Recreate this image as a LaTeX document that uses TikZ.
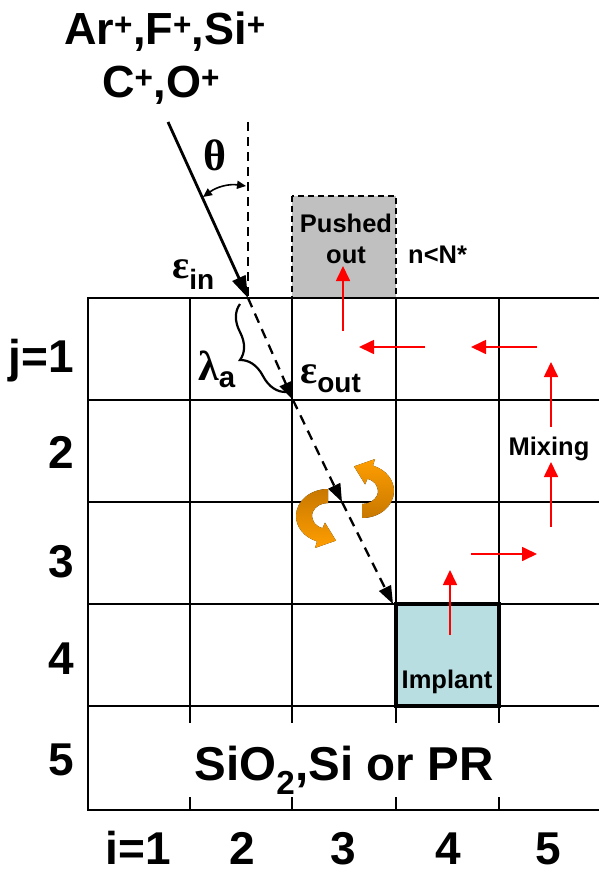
\documentclass[tikz,border=0pt]{standalone}
\usepackage{fontspec}
\setmainfont{Liberation Sans}
\newfontfamily\serifgr{Liberation Serif}
\usetikzlibrary{arrows.meta,decorations.pathreplacing,calc}
\definecolor{orD}{RGB}{200,120,0}
\definecolor{orL}{RGB}{255,158,0}
\definecolor{implantblue}{RGB}{184,222,226}
\definecolor{pushgray}{RGB}{192,192,192}
\begin{document}
\begin{tikzpicture}[x=1pt,y=-1pt,
  gridline/.style={line width=2.4pt, line cap=rect},
  big/.style={font=\fontsize{46}{50}\selectfont\bfseries, inner sep=0pt},
  ionfont/.style={font=\fontsize{45}{48}\selectfont\bfseries, inner sep=0pt, anchor=base},
  mid/.style={font=\fontsize{25.5}{31}\selectfont\bfseries, inner sep=0pt},
  greek/.style={font=\fontsize{40}{44}\selectfont\bfseries, inner sep=0pt, anchor=base west},
  redarrow/.style={draw=red, line width=1.7pt, -{Triangle[length=15pt,width=14pt]}},
  ionpath/.style={line width=2.3pt, dash pattern=on 10pt off 7pt, -{Triangle[length=18pt,width=13pt]}},
]
\useasboundingbox (0,0) rectangle (598,872);

% boxes
\draw[fill=pushgray, line width=2pt, dash pattern=on 6pt off 4pt] (292,196) rectangle (396,298);
\fill[implantblue] (396,604) rectangle (499,706);

% grid
\foreach \y in {298,400,502,604,706,810} \draw[gridline] (88,\y) -- (600,\y);
\foreach \x in {190,292,396,499} {
  \draw[gridline] (\x,298) -- (\x,706);
  \draw[gridline] (\x,706) -- (\x,722);
  \draw[gridline] (\x,798) -- (\x,810);
}
\draw[gridline] (88,298) -- (88,810);
\draw[line width=3.6pt] (396,604) rectangle (499,706);

% incoming ion
\coordinate (src) at (168,122);
\coordinate (hit) at (248,298);
\coordinate (vtop) at (248,122);
\coordinate (p1) at (293,400);
\coordinate (p2) at (342,502);
\coordinate (p3) at (393,604);
\draw[line width=2.3pt, dash pattern=on 9pt off 6pt] (vtop) -- (hit);
\draw[line width=2.8pt, -{Triangle[length=22pt,width=14pt]}] (src) -- (hit);
\draw[ionpath] (hit) -- (p1);
\draw[ionpath] (p1) -- (p2);
\draw[ionpath] (p2) -- (p3);

% theta arc
\coordinate (thA) at (203,197);
\coordinate (thB) at (246,186);
\draw[line width=1.6pt, {Triangle[length=9pt,width=8pt]}-{Triangle[length=9pt,width=8pt]}] (thA) to[bend left=22] (thB);

% brace
\coordinate (br1) at (240,304);
\coordinate (br2) at (286,392);
\draw[line width=2.2pt, decorate, decoration={brace, amplitude=26pt, mirror}] (br1) -- (br2);

% ion labels
\node[ionfont] (ions1) at (165,45) {Ar\textsuperscript{+},F\textsuperscript{+},Si\textsuperscript{+}};
\node[ionfont] (ions2) at (161,98) {C\textsuperscript{+},O\textsuperscript{+}};

% greek labels
\node[greek, font=\fontsize{44}{48}\selectfont\bfseries] (theta) at (203,170) {\serifgr θ};
\node[greek] (ein) at (172,278) {{\serifgr ε}\textsubscript{in}};
\node[greek] (eout) at (300,383) {{\serifgr ε}\textsubscript{out}};
\node[greek, font=\fontsize{42}{46}\selectfont\bfseries] (lam) at (198,380) {{\serifgr λ}\textsubscript{a}};

% small labels
\node[mid, align=center] (pushed) at (346,239) {Pushed\\out};
\node[mid, anchor=base west] (nN) at (408,263) {n{<}N*};
\node[mid, anchor=base] (mixing) at (549,455) {Mixing};
\node[mid, anchor=base] (implant) at (447,688) {Implant};

% row / column labels
\node[big, anchor=base east] (j1) at (74,372) {j=1};
\node[big, anchor=base east] (j2) at (74,468) {2};
\node[big, anchor=base east] (j3) at (74,577) {3};
\node[big, anchor=base east] (j4) at (74,674) {4};
\node[big, anchor=base east] (j5) at (74,775) {5};
\node[big, anchor=base] (i1) at (138,864) {i=1};
\node[big, anchor=base] (i2) at (242,864) {2};
\node[big, anchor=base] (i3) at (343,864) {3};
\node[big, anchor=base] (i4) at (448,864) {4};
\node[big, anchor=base] (i5) at (548,864) {5};
\node[big, font=\fontsize{47.5}{50}\selectfont\bfseries, anchor=base] (sub) at (344,780) {SiO\textsubscript{2},Si or PR};

% red arrows
\coordinate (a1s) at (343,331); \coordinate (a1e) at (343,266);
\coordinate (a2s) at (425,347); \coordinate (a2e) at (359,347);
\coordinate (a3s) at (537,347); \coordinate (a3e) at (471,347);
\coordinate (a4s) at (551,427); \coordinate (a4e) at (551,362);
\coordinate (a5s) at (551,527); \coordinate (a5e) at (551,462);
\coordinate (a6s) at (471,554); \coordinate (a6e) at (537,554);
\coordinate (a7s) at (450,635); \coordinate (a7e) at (450,570);
\foreach \k in {1,...,7} \draw[redarrow] (a\k s) -- (a\k e);

% orange rotation arrows
\coordinate (lc) at (328,516);
\fill[top color=orD, bottom color=orL]
  ($(lc)+(-90:32 and 27)$) arc[start angle=-90, end angle=-250, x radius=32, y radius=27]
  -- ($(lc)+(-250:38 and 34)$)
  -- ($(lc)+(-250:23.5 and 20)+(16,5.8)$)
  -- ($(lc)+(-250:9 and 7)$)
  -- ($(lc)+(-250:16 and 13)$)
  arc[start angle=-250, end angle=-90, x radius=16, y radius=13]
  -- cycle;
\coordinate (rc) at (362,491);
\fill[top color=orL, bottom color=orD]
  ($(rc)+(90:32 and 27)$) arc[start angle=90, end angle=-70, x radius=32, y radius=27]
  -- ($(rc)+(-70:38 and 34)$)
  -- ($(rc)+(-70:23.5 and 20)+(-16,-5.8)$)
  -- ($(rc)+(-70:9 and 7)$)
  -- ($(rc)+(-70:16 and 13)$)
  arc[start angle=-70, end angle=90, x radius=16, y radius=13]
  -- cycle;
\end{tikzpicture}
\end{document}
